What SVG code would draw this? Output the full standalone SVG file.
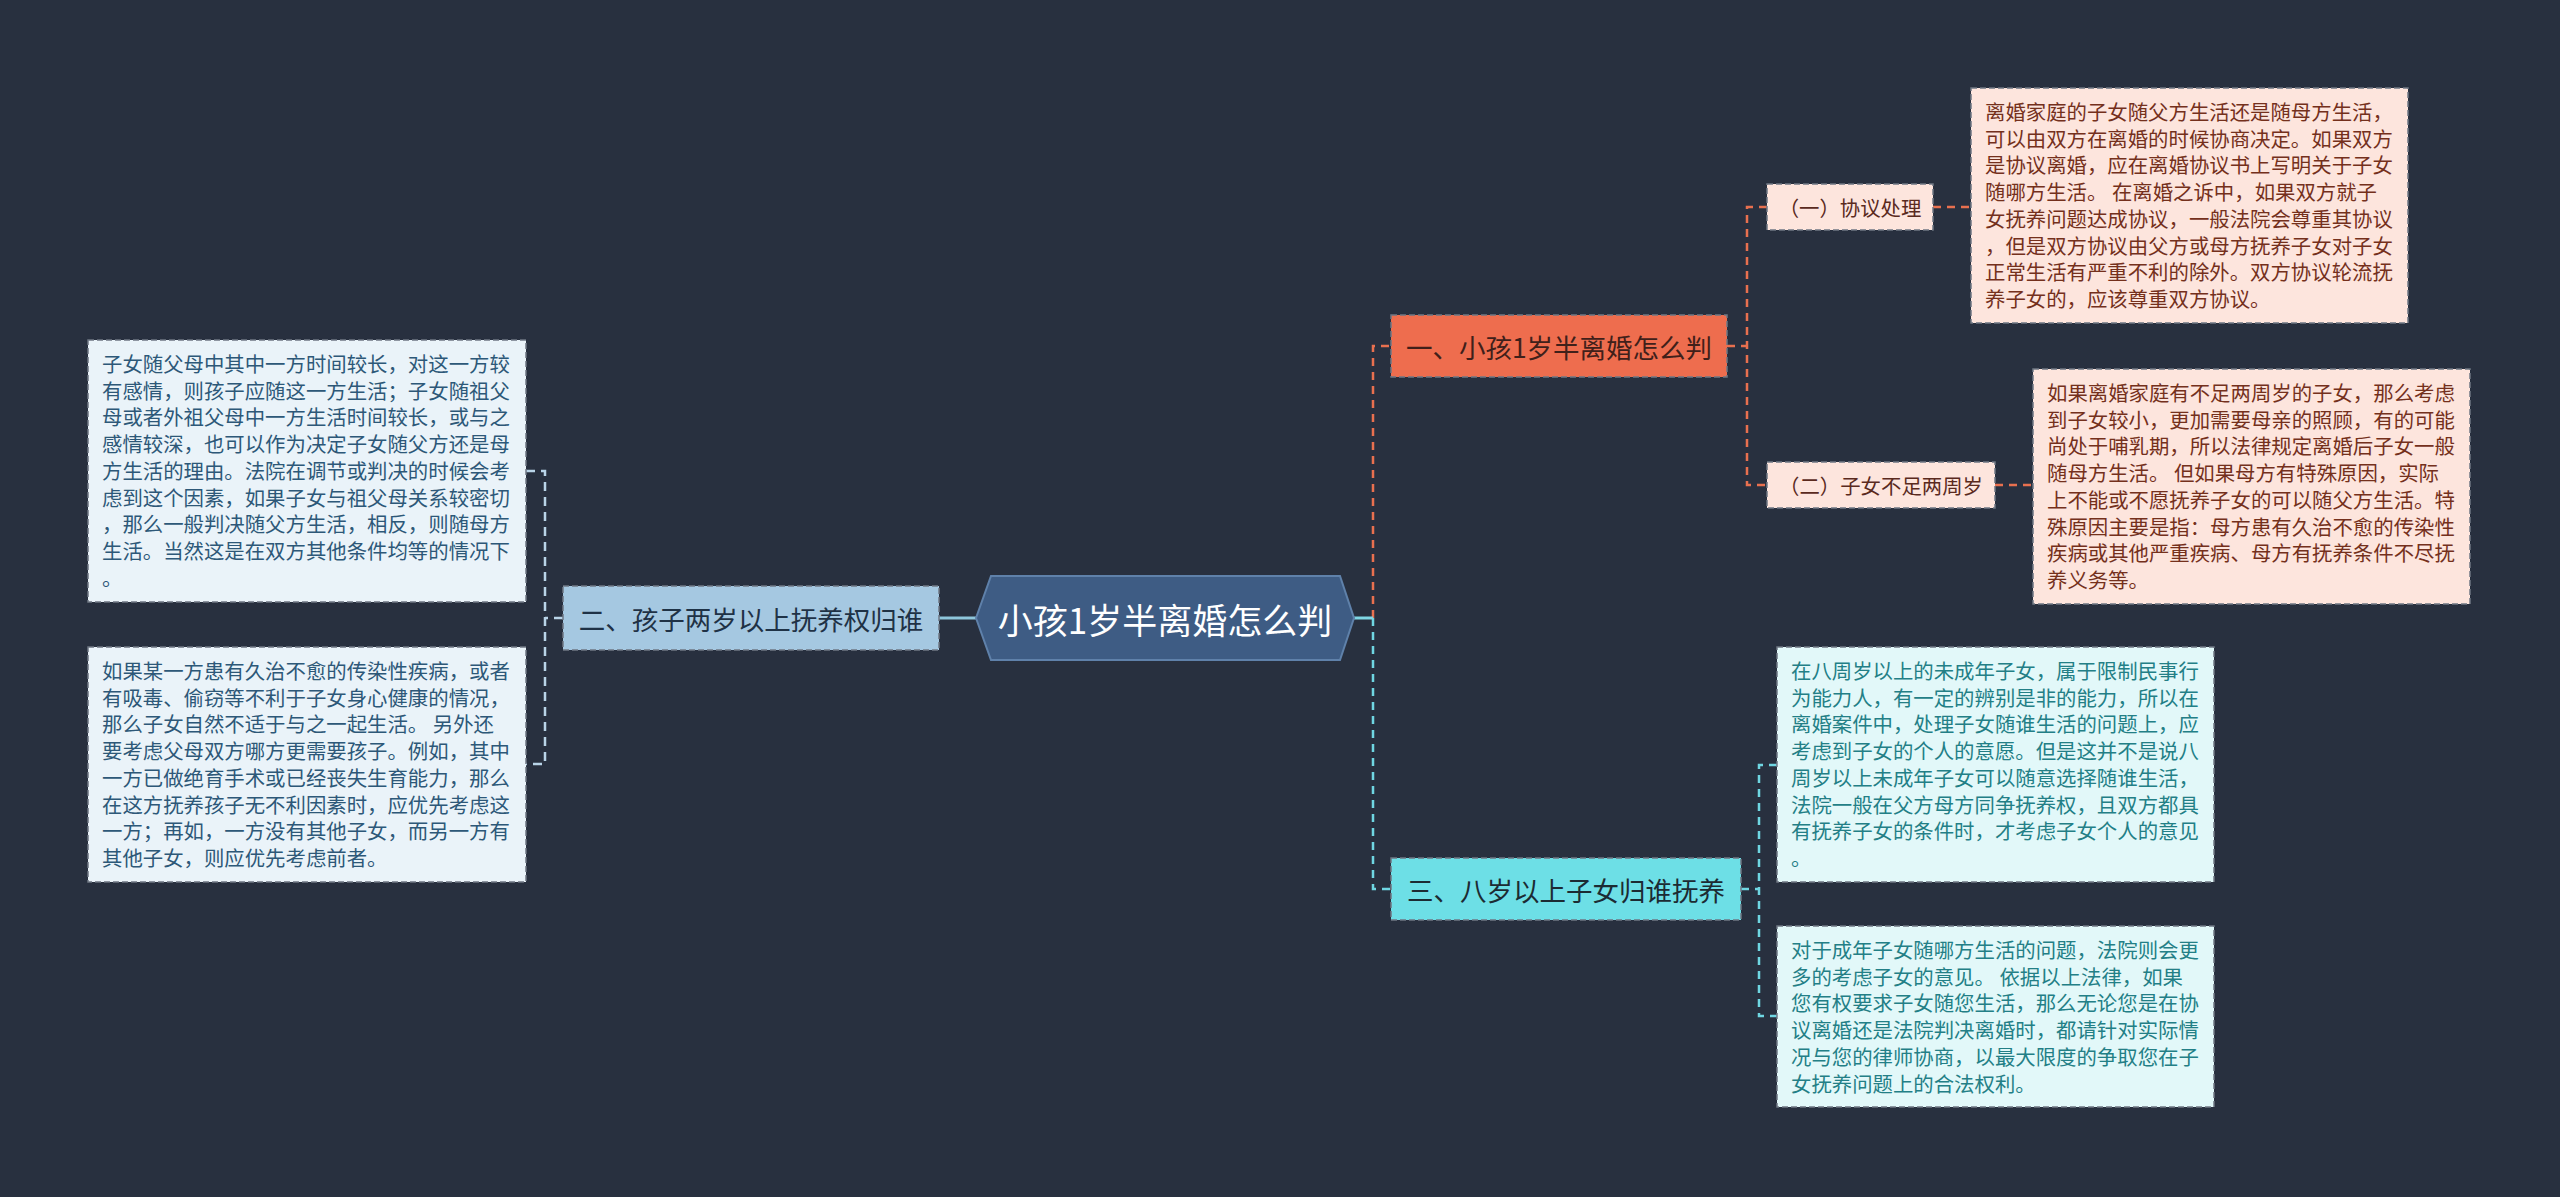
<svg xmlns="http://www.w3.org/2000/svg" width="2560" height="1197" viewBox="0 0 2560 1197">
<style>
text{font-family:"Noto Sans CJK SC","Noto Sans",sans-serif}
.box{stroke:#6f7784;stroke-width:1.5;stroke-dasharray:6 3}
.leaf{font-size:20.4px}
.lb{fill:#eaf3f9}.lbt{fill:#2d5878}
.pk{fill:#fde5dd}.pkt{fill:#74301c}
.cy{fill:#e2f8f9}.cyt{fill:#237f86}
.br{font-size:26.5px}
.cn{fill:none;stroke-width:2.5}
.or{stroke:#e8704f;stroke-dasharray:8 6}
.cc{stroke:#6fd6e2;stroke-dasharray:8 6}
.bl{stroke:#b9d4e8;stroke-dasharray:9 6}
</style>
<rect width="2560" height="1197" fill="#28303f"/>
<g id="connectors">
<path class="cn or" d="M1373 618 V346 H1391"/>
<path class="cn cc" d="M1373 618 V889 H1391"/>
<path d="M1354 618 H1373" stroke="#7fd6e4" stroke-width="3" fill="none"/>
<path d="M976 618 H939" stroke="#8ec6dc" stroke-width="3" fill="none"/>
<path class="cn or" d="M1727 346 H1747 M1767 207 H1747 V485 H1767"/>
<path class="cn or" d="M1933 207 H1971 M1995 485 H2033"/>
<path class="cn cc" d="M1741 889 H1759 M1777 765 H1759 V1016 H1777"/>
<path class="cn bl" d="M563 618 H545 M526 471 H545 V764 H526"/>
</g>
<g id="root">
<polygon points="976,618 991,576 1340,576 1354,618 1340,660 991,660" fill="#3e5c84" stroke="#5f81aa" stroke-width="2"/>
<text x="1165" y="618" font-size="35" fill="#ffffff" text-anchor="middle" dominant-baseline="central">小孩1岁半离婚怎么判</text>
</g>
<g id="branch1">
<rect class="box" x="1391" y="315" width="336" height="62" fill="#ee6d4e"/>
<text class="br" x="1559" y="346" fill="#40201a" text-anchor="middle" dominant-baseline="central">一、小孩1岁半离婚怎么判</text>
</g>
<g id="sub1">
<rect class="box" x="1767" y="184" width="166" height="46" fill="#fde5dd"/>
<text class="leaf" x="1850" y="207" fill="#5a2a1e" text-anchor="middle" dominant-baseline="central">（一）协议处理</text>
</g>
<g id="sub2">
<rect class="box" x="1767" y="462" width="228" height="46" fill="#fde5dd"/>
<text class="leaf" x="1881" y="485" fill="#5a2a1e" text-anchor="middle" dominant-baseline="central">（二）子女不足两周岁</text>
</g>
<g id="leafR1">
<rect class="box pk" x="1971" y="88" width="437" height="235"/>
<text class="leaf pkt" x="1985" y="120"><tspan x="1985">离婚家庭的子女随父方生活还是随母方生活，</tspan><tspan x="1985" dy="26.7">可以由双方在离婚的时候协商决定。如果双方</tspan><tspan x="1985" dy="26.7">是协议离婚，应在离婚协议书上写明关于子女</tspan><tspan x="1985" dy="26.7">随哪方生活。 在离婚之诉中，如果双方就子</tspan><tspan x="1985" dy="26.7">女抚养问题达成协议，一般法院会尊重其协议</tspan><tspan x="1985" dy="26.7">，但是双方协议由父方或母方抚养子女对子女</tspan><tspan x="1985" dy="26.7">正常生活有严重不利的除外。双方协议轮流抚</tspan><tspan x="1985" dy="26.7">养子女的，应该尊重双方协议。</tspan></text>
</g>
<g id="leafR2">
<rect class="box pk" x="2033" y="369" width="437" height="235"/>
<text class="leaf pkt" x="2047" y="401"><tspan x="2047">如果离婚家庭有不足两周岁的子女，那么考虑</tspan><tspan x="2047" dy="26.7">到子女较小，更加需要母亲的照顾，有的可能</tspan><tspan x="2047" dy="26.7">尚处于哺乳期，所以法律规定离婚后子女一般</tspan><tspan x="2047" dy="26.7">随母方生活。 但如果母方有特殊原因，实际</tspan><tspan x="2047" dy="26.7">上不能或不愿抚养子女的可以随父方生活。特</tspan><tspan x="2047" dy="26.7">殊原因主要是指：母方患有久治不愈的传染性</tspan><tspan x="2047" dy="26.7">疾病或其他严重疾病、母方有抚养条件不尽抚</tspan><tspan x="2047" dy="26.7">养义务等。</tspan></text>
</g>
<g id="branch3">
<rect class="box" x="1391" y="858" width="350" height="62" fill="#6ddfe6"/>
<text class="br" x="1566" y="889" fill="#1c2b33" text-anchor="middle" dominant-baseline="central">三、八岁以上子女归谁抚养</text>
</g>
<g id="leafR3">
<rect class="box cy" x="1777" y="647" width="437" height="235"/>
<text class="leaf cyt" x="1791" y="679"><tspan x="1791">在八周岁以上的未成年子女，属于限制民事行</tspan><tspan x="1791" dy="26.7">为能力人，有一定的辨别是非的能力，所以在</tspan><tspan x="1791" dy="26.7">离婚案件中，处理子女随谁生活的问题上，应</tspan><tspan x="1791" dy="26.7">考虑到子女的个人的意愿。但是这并不是说八</tspan><tspan x="1791" dy="26.7">周岁以上未成年子女可以随意选择随谁生活，</tspan><tspan x="1791" dy="26.7">法院一般在父方母方同争抚养权，且双方都具</tspan><tspan x="1791" dy="26.7">有抚养子女的条件时，才考虑子女个人的意见</tspan><tspan x="1791" dy="26.7">。</tspan></text>
</g>
<g id="leafR4">
<rect class="box cy" x="1777" y="926" width="437" height="181"/>
<text class="leaf cyt" x="1791" y="958"><tspan x="1791">对于成年子女随哪方生活的问题，法院则会更</tspan><tspan x="1791" dy="26.7">多的考虑子女的意见。 依据以上法律，如果</tspan><tspan x="1791" dy="26.7">您有权要求子女随您生活，那么无论您是在协</tspan><tspan x="1791" dy="26.7">议离婚还是法院判决离婚时，都请针对实际情</tspan><tspan x="1791" dy="26.7">况与您的律师协商，以最大限度的争取您在子</tspan><tspan x="1791" dy="26.7">女抚养问题上的合法权利。</tspan></text>
</g>
<g id="branch2">
<rect class="box" x="563" y="586" width="376" height="64" fill="#a5c8e1"/>
<text class="br" x="751" y="618" fill="#1f3246" text-anchor="middle" dominant-baseline="central">二、孩子两岁以上抚养权归谁</text>
</g>
<g id="leafL1">
<rect class="box lb" x="88" y="340" width="438" height="262"/>
<text class="leaf lbt" x="102" y="372"><tspan x="102">子女随父母中其中一方时间较长，对这一方较</tspan><tspan x="102" dy="26.7">有感情，则孩子应随这一方生活；子女随祖父</tspan><tspan x="102" dy="26.7">母或者外祖父母中一方生活时间较长，或与之</tspan><tspan x="102" dy="26.7">感情较深，也可以作为决定子女随父方还是母</tspan><tspan x="102" dy="26.7">方生活的理由。法院在调节或判决的时候会考</tspan><tspan x="102" dy="26.7">虑到这个因素，如果子女与祖父母关系较密切</tspan><tspan x="102" dy="26.7">，那么一般判决随父方生活，相反，则随母方</tspan><tspan x="102" dy="26.7">生活。当然这是在双方其他条件均等的情况下</tspan><tspan x="102" dy="26.7">。</tspan></text>
</g>
<g id="leafL2">
<rect class="box lb" x="88" y="647" width="438" height="235"/>
<text class="leaf lbt" x="102" y="679"><tspan x="102">如果某一方患有久治不愈的传染性疾病，或者</tspan><tspan x="102" dy="26.7">有吸毒、偷窃等不利于子女身心健康的情况，</tspan><tspan x="102" dy="26.7">那么子女自然不适于与之一起生活。 另外还</tspan><tspan x="102" dy="26.7">要考虑父母双方哪方更需要孩子。例如，其中</tspan><tspan x="102" dy="26.7">一方已做绝育手术或已经丧失生育能力，那么</tspan><tspan x="102" dy="26.7">在这方抚养孩子无不利因素时，应优先考虑这</tspan><tspan x="102" dy="26.7">一方；再如，一方没有其他子女，而另一方有</tspan><tspan x="102" dy="26.7">其他子女，则应优先考虑前者。</tspan></text>
</g>
</svg>
